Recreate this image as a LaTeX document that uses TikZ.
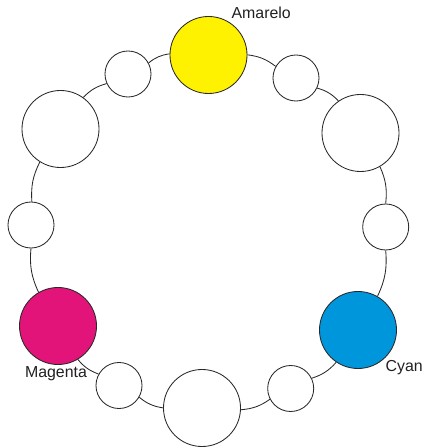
\documentclass[tikz,border=0pt]{standalone}
\usepackage{fontspec}
\setmainfont{Liberation Sans}
\usepackage{tikz}
\usetikzlibrary{positioning}
\definecolor{amarelocolor}{RGB}{255, 242, 0}
\definecolor{magentacolor}{RGB}{226, 20, 122}
\definecolor{cyancolor}{RGB}{0, 150, 219}
\definecolor{linecolor}{RGB}{40, 40, 40}
\definecolor{labelcolor}{RGB}{35, 31, 32}
\begin{document}
\begin{tikzpicture}[
    x=0.025cm, y=0.025cm,
    % Estilos dos nós
    bigcircle/.style={
        circle,
        draw=linecolor,
        fill=white,
        line width=0.6pt,
        inner sep=0pt,
        minimum size=1.925cm
    },
    smallcircle/.style={
        circle,
        draw=linecolor,
        fill=white,
        line width=0.6pt,
        inner sep=0pt,
        minimum size=1.15cm
    },
    colorlabel/.style={
        font=\fontsize{11.3}{13}\selectfont,
        text=labelcolor,
        inner sep=0pt
    },
    ringline/.style={draw=linecolor, line width=0.6pt}
]
\useasboundingbox (0,0) rectangle (424,448);

% ============================================================================
% Círculos grandes (cores primárias e brancos)
% ============================================================================
\node[bigcircle, fill=amarelocolor] (amarelo) at (208.5, 393) {};
\node[bigcircle] (grande_dir) at (360.5, 315) {};
\node[bigcircle, fill=cyancolor] (cyan) at (358, 118) {};
\node[bigcircle] (grande_baixo) at (202, 40) {};
\node[bigcircle, fill=magentacolor] (magenta) at (58, 122) {};
\node[bigcircle] (grande_esq) at (60.5, 319) {};

% ============================================================================
% Círculos pequenos
% ============================================================================
\node[smallcircle] (peq_1) at (296, 370) {};
\node[smallcircle] (peq_2) at (385.7, 221) {};
\node[smallcircle] (peq_3) at (290.7, 59.5) {};
\node[smallcircle] (peq_4) at (119, 62.5) {};
\node[smallcircle] (peq_5) at (31, 223) {};
\node[smallcircle] (peq_6) at (128, 374) {};

% ============================================================================
% Arcos do anel
% ============================================================================
\foreach \a/\b in {amarelo/peq_1, peq_1/grande_dir, grande_dir/peq_2, peq_2/cyan,
                   cyan/peq_3, peq_3/grande_baixo, grande_baixo/peq_4, peq_4/magenta,
                   magenta/peq_5, peq_5/grande_esq, grande_esq/peq_6, peq_6/amarelo}
  \draw[ringline] (\a) to[bend left=15] (\b);

% ============================================================================
% Rótulos
% ============================================================================
\node[colorlabel, anchor=base west] (lbl_amarelo) at (231.3, 429) {Amarelo};
\node[colorlabel, anchor=base] (lbl_magenta) at (56, 70) {Magenta};
\node[colorlabel, anchor=base west] (lbl_cyan) at (385.3, 76.3) {Cyan};

\end{tikzpicture}
\end{document}
